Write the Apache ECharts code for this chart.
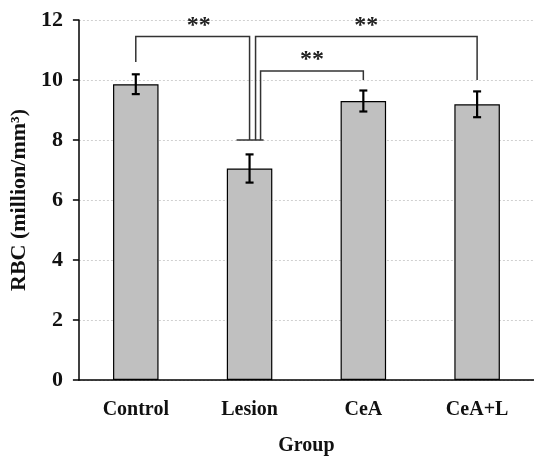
<!DOCTYPE html>
<html><head><meta charset="utf-8">
<script src="https://cdn.jsdelivr.net/npm/echarts@6/dist/echarts.min.js"></script>
<style>html,body{margin:0;padding:0;background:#fff}#c{width:534px;height:463px}</style>
</head><body><div id="c"></div>
<script>
const categories = ['Control', 'Lesion', 'CeA', 'CeA+L'];
const means = [9.86, 7.05, 9.30, 9.19];
const errors = [0.33, 0.47, 0.35, 0.43];
const yTicks = [0, 2, 4, 6, 8, 10, 12];
// significance brackets: [fromIndex, toIndex, barY, fromEndY, toEndY]
const brackets = [
  [0, 1, 11.45, 10.6, 8.0],
  [1, 3, 11.45, 8.0, 10.0],
  [1, 2, 10.3, 8.0, 10.0]
];
const bracketLabels = ['**', '**', '**'];

const FONT = 'Liberation Serif';
const laneOffsetPx = [[0, 0], [6, 0], [11, 0]];

const chart = echarts.init(document.getElementById('c'));
chart.setOption({
  animation: false,
  grid: { left: 71, top: 20, width: 466, height: 360, containLabel: false },
  xAxis: {
    type: 'category', data: categories, boundaryGap: true,
    axisLine: { lineStyle: { color: '#000', width: 1.5 } },
    axisTick: { show: false },
    axisLabel: { color: '#111', fontFamily: FONT, fontWeight: 'bold', fontSize: 20, margin: 20 },
    name: 'Group', nameLocation: 'middle', nameGap: 56,
    nameTextStyle: { color: '#111', fontFamily: FONT, fontWeight: 'bold', fontSize: 20 }
  },
  yAxis: {
    type: 'value', min: yTicks[0], max: yTicks[yTicks.length - 1], interval: 2,
    axisLine: { show: true, lineStyle: { color: '#000', width: 1.5 } },
    axisTick: { show: true, length: 6, lineStyle: { color: '#000', width: 1.5 } },
    axisLabel: { color: '#111', fontFamily: FONT, fontWeight: 'bold', fontSize: 22, margin: 16 },
    splitLine: { show: true, lineStyle: { color: '#d0d0d0', type: [2, 2], width: 1 } },
    name: 'RBC (million/mm³)', nameLocation: 'middle', nameGap: 37,
    nameTextStyle: { color: '#111', fontFamily: FONT, fontWeight: 'bold', fontSize: 22 }
  },
  series: [
    {
      type: 'bar', data: means, barWidth: '40%',
      itemStyle: { color: '#c0c0c0', borderColor: '#000', borderWidth: 1.2 },
      z: 2
    },
    {
      type: 'custom', z: 5,
      data: means.map((m, i) => [i, m - errors[i], m + errors[i]]),
      renderItem: function (params, api) {
        const lo = api.coord([api.value(0), api.value(1)]);
        const hi = api.coord([api.value(0), api.value(2)]);
        const w = 4;
        const st = { stroke: '#000', lineWidth: 2.2 };
        return {
          type: 'group', children: [
            { type: 'line', shape: { x1: hi[0], y1: hi[1], x2: lo[0], y2: lo[1] }, style: st },
            { type: 'line', shape: { x1: hi[0] - w, y1: hi[1], x2: hi[0] + w, y2: hi[1] }, style: st },
            { type: 'line', shape: { x1: lo[0] - w, y1: lo[1], x2: lo[0] + w, y2: lo[1] }, style: st }
          ]
        };
      }
    },
    {
      type: 'custom', z: 6,
      data: brackets.map((b, i) => b.concat([i])),
      renderItem: function (params, api) {
        const i = api.value(5);
        const off = laneOffsetPx[i];
        const fromIdx = api.value(0), toIdx = api.value(1);
        const pBar1 = api.coord([fromIdx, api.value(2)]);
        const pBar2 = api.coord([toIdx, api.value(2)]);
        const pEnd1 = api.coord([fromIdx, api.value(3)]);
        const pEnd2 = api.coord([toIdx, api.value(4)]);
        const x1 = pBar1[0] + off[0], x2 = pBar2[0] + off[1];
        const st = { stroke: '#333', lineWidth: 1.5 };
        const children = [
          { type: 'polyline', shape: { points: [[x1, pEnd1[1]], [x1, pBar1[1]], [x2, pBar2[1]], [x2, pEnd2[1]]] }, style: Object.assign({ fill: null }, st) },
          { type: 'text', style: { text: bracketLabels[i], x: (x1 + x2) / 2 + (i === 0 ? 6 : 0), y: pBar1[1] - 11, align: 'center', verticalAlign: 'middle', font: 'bold 24px ' + FONT, fill: '#222' } }
        ];
        if (i === 0) {
          const c = api.coord([1, 8.0]);
          children.push({ type: 'line', shape: { x1: c[0] - 13, y1: c[1], x2: c[0] + 14, y2: c[1] }, style: st });
        }
        return { type: 'group', children: children };
      }
    }
  ]
});
</script></body></html>
